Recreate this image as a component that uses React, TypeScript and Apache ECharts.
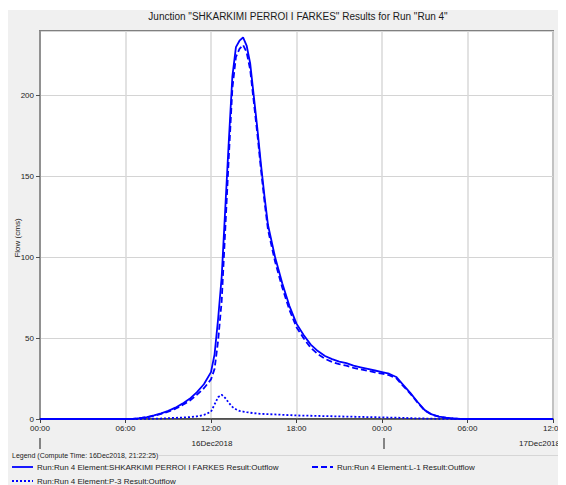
import React, { useEffect, useRef } from "react";
import * as echarts from "echarts";

const TITLE = 'Junction "SHKARKIMI PERROI I FARKES" Results for Run "Run 4"';
const Y_NAME = "Flow (cms)";
const LEGEND_HEADER = "Legend (Compute Time: 16Dec2018, 21:22:25)";
const SERIES_NAMES = [
  "Run:Run 4 Element:SHKARKIMI PERROI I FARKES Result:Outflow",
  "Run:Run 4 Element:L-1 Result:Outflow",
  "Run:Run 4 Element:P-3 Result:Outflow",
];
const DATE_LABELS = ["16Dec2018", "17Dec2018"];

// hours since 16Dec2018 00:00
const TIMES = [
  0, 1, 2, 3, 4, 5, 6,
  6.5, 7, 7.5, 8, 8.5, 9, 9.5, 10, 10.5, 11, 11.5,
  12, 12.25, 12.5, 12.75, 13, 13.25, 13.5, 13.75, 14, 14.25, 14.5, 14.75, 15, 15.25, 15.5, 15.75,
  16, 16.5, 17, 17.5, 18, 18.5, 19, 19.5, 20, 20.5, 21, 21.5, 22, 22.5, 23, 23.5, 24, 24.5, 25, 25.5,
  26, 26.5, 27, 27.5, 28, 28.5, 29, 29.5,
  30, 31, 32, 33, 34, 35, 36,
];

const JUNCTION = [
  0, 0, 0, 0, 0, 0, 0,
  0.1, 0.5, 1.2, 2.2, 3.5, 5, 7, 9.5, 12.5, 16.5, 21.5,
  29, 40, 62, 88, 130, 172, 212, 230, 234, 236, 231, 220, 200, 180, 158, 138,
  120, 100, 84, 70, 59, 52, 46, 42, 39, 37, 35.5, 34.5, 33, 32, 31, 30, 29, 28, 26, 21,
  16, 10.5, 5.5, 2.8, 1.5, 0.8, 0.3, 0.1,
  0, 0, 0, 0, 0, 0, 0,
];

const L1 = [
  0, 0, 0, 0, 0, 0, 0,
  0.1, 0.5, 1.1, 2.0, 3.2, 4.5, 6.3, 8.6, 11.3, 14.9, 19.0,
  24.5, 31, 48.5, 73, 117, 162, 204.5, 224, 229, 231.4, 226.8, 216.1, 196.4, 176.6, 154.8, 134.9,
  117, 97.2, 81.4, 67.6, 56.8, 49.9, 44, 40.1, 37.2, 35.3, 33.9, 33, 31.6, 30.7, 29.8, 28.9, 28, 27.1, 25.2, 20.3,
  15.5, 10.1, 5.2, 2.6, 1.4, 0.75, 0.3, 0.1,
  0, 0, 0, 0, 0, 0, 0,
];

const P3 = [
  0, 0, 0, 0, 0, 0, 0,
  0, 0, 0.1, 0.2, 0.3, 0.5, 0.7, 0.9, 1.2, 1.6, 2.5,
  4.5, 9, 13.5, 15, 13, 10, 7.5, 6, 5, 4.6, 4.2, 3.9, 3.6, 3.4, 3.2, 3.1,
  3, 2.8, 2.6, 2.4, 2.2, 2.1, 2, 1.9, 1.8, 1.7, 1.6, 1.5, 1.4, 1.3, 1.2, 1.1, 1, 0.9, 0.8, 0.7,
  0.5, 0.4, 0.3, 0.2, 0.1, 0.05, 0, 0,
  0, 0, 0, 0, 0, 0, 0,
];

const FONT = "Liberation Sans, Arial, sans-serif";
const BLUE = "#0000ff";
const LINE_W = 1.8;
const DASHES: (number[] | null)[] = [null, [6, 3], [2, 2]];

function pairs(vals: number[]) {
  return TIMES.map((t, i) => [t, vals[i]]);
}

function txt(text: string, x: number, y: number, size: number, align: string, extra: any = {}) {
  return {
    type: "text",
    x,
    y,
    ...extra,
    style: {
      text,
      font: `${size}px ${FONT}`,
      fill: "#1a1a1a",
      align,
      verticalAlign: "middle",
    },
  };
}

function legendItem(i: number, x: number, y: number) {
  return [
    {
      type: "line",
      shape: { x1: x, y1: y, x2: x + 21, y2: y },
      style: { stroke: BLUE, lineWidth: LINE_W, lineDash: DASHES[i] || undefined },
    },
    txt(SERIES_NAMES[i], x + 25, y, 8, "left"),
  ];
}

export default function App() {
  const ref = useRef<HTMLDivElement>(null);
  useEffect(() => {
    if (!ref.current) return;
    const chart = echarts.init(ref.current, null, { renderer: "svg" });
    const fmtHour = (v: number) => {
      const h = v % 24;
      return (h < 10 ? "0" : "") + h + ":00";
    };
    chart.setOption({
      animation: false,
      backgroundColor: "#f0f0f0",
      textStyle: { fontFamily: FONT },
      grid: {
        left: 32,
        right: 10,
        top: 21,
        bottom: 66,
        show: true,
        backgroundColor: "#ffffff",
        borderColor: "#808080",
        borderWidth: 2,
      },
      xAxis: {
        type: "value",
        min: 0,
        max: 36,
        interval: 6,
        axisLine: { show: true, onZero: false, lineStyle: { color: "#404040", width: 1.5 } },
        axisTick: { show: true, length: 4, lineStyle: { color: "#404040" } },
        axisLabel: { formatter: fmtHour, fontSize: 8, color: "#222", margin: 5, fontFamily: FONT },
        splitLine: { show: true, lineStyle: { color: "#d8d8d8", width: 1.5 } },
      },
      yAxis: {
        type: "value",
        min: 0,
        max: 240,
        interval: 50,
        axisLine: { show: true, lineStyle: { color: "#808080", width: 1.5 } },
        axisTick: { show: true, length: 4, lineStyle: { color: "#505050" } },
        axisLabel: { fontSize: 8, color: "#222", margin: 6, showMaxLabel: false, fontFamily: FONT },
        splitLine: { show: true, lineStyle: { color: "#d4d4d4", width: 1 } },
      },
      graphic: [
        txt(TITLE, 290, 6, 10, "center"),
        txt(Y_NAME, 9, 228, 8, "center", { rotation: Math.PI / 2 }),
        {
          type: "line",
          shape: { x1: 32, y1: 428, x2: 32, y2: 439 },
          style: { stroke: "#606060", lineWidth: 1.5 },
        },
        {
          type: "line",
          shape: { x1: 376, y1: 428, x2: 376, y2: 439 },
          style: { stroke: "#606060", lineWidth: 1.5 },
        },
        txt(DATE_LABELS[0], 204, 433, 8, "center"),
        txt(DATE_LABELS[1], 552, 433, 8, "right"),
        txt(LEGEND_HEADER, 4, 445, 7, "left"),
        {
          type: "line",
          shape: { x1: 150, y1: 445.5, x2: 556, y2: 445.5 },
          style: { stroke: "#d6d6d6", lineWidth: 1 },
        },
        ...legendItem(0, 4, 457),
        ...legendItem(1, 304, 457),
        ...legendItem(2, 4, 471),
      ],
      series: [
        {
          name: SERIES_NAMES[0],
          type: "line",
          data: pairs(JUNCTION),
          symbol: "none",
          color: BLUE,
          lineStyle: { color: BLUE, width: LINE_W, type: "solid" },
        },
        {
          name: SERIES_NAMES[1],
          type: "line",
          data: pairs(L1),
          symbol: "none",
          color: BLUE,
          lineStyle: { color: BLUE, width: LINE_W, type: DASHES[1] },
        },
        {
          name: SERIES_NAMES[2],
          type: "line",
          data: pairs(P3),
          symbol: "none",
          color: BLUE,
          lineStyle: { color: BLUE, width: LINE_W, type: DASHES[2] },
        },
      ],
    });
    return () => chart.dispose();
  }, []);
  return <div ref={ref} style={{ width: 558, height: 475, marginTop: 2 }} />;
}
